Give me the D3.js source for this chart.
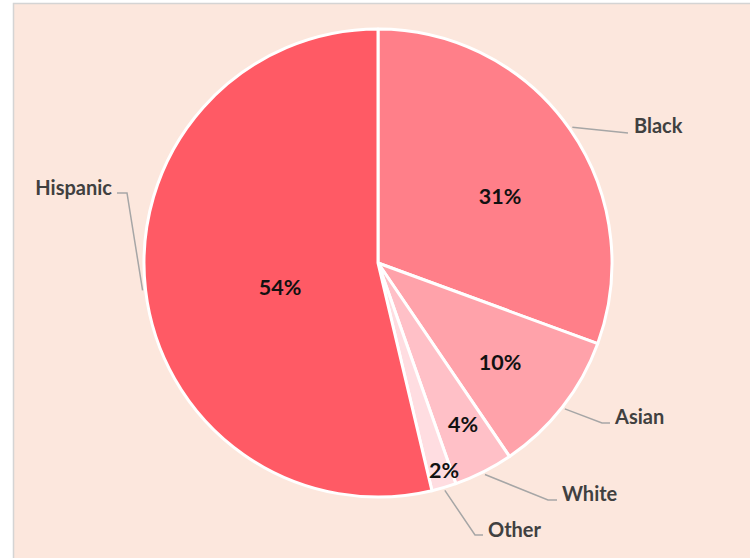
<!DOCTYPE html>
<html>
<head>
<meta charset="utf-8">
<script src="https://cdn.jsdelivr.net/npm/d3@7"></script>
<style>
  html, body { margin: 0; padding: 0; background: #ffffff; }
  svg { display: block; }
</style>
</head>
<body>
<svg id="chart" width="750" height="558"></svg>
<script>
// ---- data ----
const categories = ["Black", "Asian", "White", "Other", "Hispanic"];
const values = [30.6, 9.9, 4.1, 1.7, 53.7];
const pctLabels = ["31%", "10%", "4%", "2%", "54%"];

// ---- styling / layout (separate from data) ----
const colors = ["#ff7f89", "#ffa2aa", "#ffc0c7", "#ffdde1", "#ff5a65"];
// percentage label offsets from pie centre
const pctPos = [[122, -67], [122, 99], [85, 161], [66, 207], [-98, 24]];
// leader elbow and end, and text anchor, relative to pie centre
const leaderElbow = [[250, -130], [224, 160], [170, 237], [97, 272], [-251, -70]];
const leaderEnd   = [[250, -130], [232, 160], [179, 237], [105, 272], [-261, -70]];
const textPos     = [[256, -137], [237, 154], [184, 231], [110, 267], [-266, -75]];
const textAnchor  = ["start", "start", "start", "start", "end"];

const W = 750, H = 558;
const cx = 378, cy = 263, R = 234;

const svg = d3.select("#chart");

svg.append("rect")
  .attr("x", 13.5).attr("y", 3.5)
  .attr("width", W).attr("height", H)
  .attr("fill", "#fce7dd")
  .attr("stroke", "#d4d4d4").attr("stroke-width", 1.5);

const g = svg.append("g").attr("transform", `translate(${cx},${cy})`);

const pie = d3.pie().sort(null).value(d => d)(values);
const arc = d3.arc().innerRadius(0).outerRadius(R);

g.selectAll("path.slice")
  .data(pie)
  .join("path")
  .attr("class", "slice")
  .attr("d", arc)
  .attr("fill", (d, i) => colors[i])
  .attr("stroke", "#ffffff")
  .attr("stroke-width", 3)
  .attr("stroke-linejoin", "round");

// leader lines
const edgeArc = d3.arc().innerRadius(R + 3).outerRadius(R + 3);
g.selectAll("polyline.leader")
  .data(pie)
  .join("polyline")
  .attr("class", "leader")
  .attr("points", (d, i) => {
    const s = edgeArc.centroid(d);
    return [s, leaderElbow[i], leaderEnd[i]].map(p => p.join(",")).join(" ");
  })
  .attr("fill", "none")
  .attr("stroke", "#a6a6a6")
  .attr("stroke-width", 1.5);

// category labels
g.selectAll("text.cat")
  .data(pie)
  .join("text")
  .attr("class", "cat")
  .attr("x", (d, i) => textPos[i][0])
  .attr("y", (d, i) => textPos[i][1])
  .attr("dy", "0.35em")
  .attr("text-anchor", (d, i) => textAnchor[i])
  .attr("font-family", "Lato, 'Open Sans', sans-serif")
  .attr("font-weight", "bold")
  .attr("font-size", 20)
  .attr("fill", "#404040")
  .text((d, i) => categories[i]);

// percentage labels
g.selectAll("text.pct")
  .data(pie)
  .join("text")
  .attr("class", "pct")
  .attr("x", (d, i) => pctPos[i][0])
  .attr("y", (d, i) => pctPos[i][1])
  .attr("dy", "0.35em")
  .attr("text-anchor", "middle")
  .attr("font-family", "Lato, 'Open Sans', sans-serif")
  .attr("font-weight", "bold")
  .attr("font-size", 21.5)
  .attr("fill", "#111111")
  .text((d, i) => pctLabels[i]);
</script>
</body>
</html>
